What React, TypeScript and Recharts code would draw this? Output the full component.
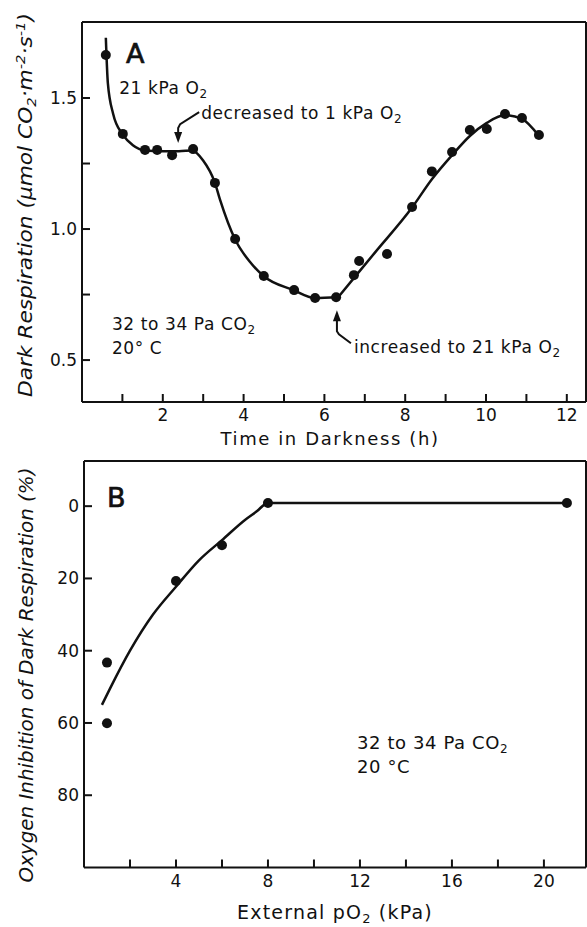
import React from 'react';
import { ComposedChart, Line, Scatter, XAxis, YAxis, ReferenceDot } from 'recharts';

// ---------- Panel A : dark respiration vs time in darkness ----------
const timeHours = [0.59, 1.01, 1.56, 1.86, 2.23, 2.75, 3.29, 3.79, 4.5, 5.25, 5.77, 6.29, 6.73, 6.86, 7.55, 8.17, 8.66, 9.16, 9.6, 10.02, 10.47, 10.89, 11.31];
const respiration = [1.664, 1.363, 1.302, 1.302, 1.282, 1.305, 1.176, 0.962, 0.821, 0.767, 0.737, 0.74, 0.824, 0.878, 0.905, 1.084, 1.22, 1.294, 1.378, 1.382, 1.439, 1.424, 1.359];
// fitted curve, read in two pieces (sharp corner where O2 was raised)
const fitTimeLow = [0.59, 0.64, 0.77, 1.01, 1.26, 1.55, 2.0, 2.4, 2.73, 2.99, 3.29, 3.42, 3.79, 4.16, 4.5, 5.24, 5.76, 6.34];
const fitRespLow = [1.73, 1.557, 1.44, 1.36, 1.32, 1.3, 1.297, 1.297, 1.3, 1.263, 1.176, 1.11, 0.96, 0.874, 0.82, 0.767, 0.737, 0.74];
const fitTimeHigh = [6.34, 7.25, 8.16, 8.66, 9.15, 9.6, 10.02, 10.47, 10.89, 11.31];
const fitRespHigh = [0.74, 0.91, 1.08, 1.19, 1.28, 1.355, 1.405, 1.435, 1.42, 1.355];
const timeTicks = [1, 2, 3, 4, 5, 6, 7, 8, 9, 10, 11, 12];
const timeLabels = [2, 4, 6, 8, 10, 12];
const respTicks = [0.5, 0.75, 1.0, 1.25, 1.5];
const respLabels = [0.5, 1.0, 1.5];

// ---------- Panel B : oxygen inhibition vs external pO2 ----------
const pO2 = [1, 1, 4, 6, 8, 21];
const inhibition = [43.3, 60.1, 20.7, 10.8, -0.9, -0.9];
const fitPO2 = [0.78, 1.13, 2, 3, 4, 5, 6, 7, 7.5, 8, 21];
const fitInhib = [55, 50.5, 40, 30, 22.3, 15, 9.4, 3.8, 1.5, -0.9, -0.9];
const pO2Ticks = [2, 4, 6, 8, 10, 12, 14, 16, 18, 20];
const pO2Labels = [4, 8, 12, 16, 20];
const inhibTicks = [0, 20, 40, 60, 80];
const inhibLabels = [0, 20, 40, 60, 80];

const pointsA = timeHours.map((x, i) => ({ x, y: respiration[i] }));
const curveALow = fitTimeLow.map((x, i) => ({ x, y: fitRespLow[i] }));
const curveAHigh = fitTimeHigh.map((x, i) => ({ x, y: fitRespHigh[i] }));
const pointsB = pO2.map((x, i) => ({ x, y: inhibition[i] }));
const curveB = fitPO2.map((x, i) => ({ x, y: fitInhib[i] }));

const FONT = "'DejaVu Sans', 'Liberation Sans', sans-serif";
const INK = '#111';
const axisLine = { stroke: INK, strokeWidth: 2 };
const TICK_LEN = 8;

const Dot = (p: any) => <circle cx={p.cx} cy={p.cy} r={5} fill={INK} />;

const txt = { fill: INK, fontFamily: FONT, fontSize: 17, letterSpacing: 0.6 } as any;

const has = (list: number[], v: number) => list.some((l) => Math.abs(l - v) < 1e-6);

// inward-pointing tick marks with labels outside the frame
const makeTick = (side: 'bottom' | 'top' | 'left' | 'right', labels: number[] = [], fmt: (v: number) => string = String) => (p: any) => {
  const v = Number(p.payload?.value);
  const { x, y } = p;
  const label = has(labels, v) ? fmt(v) : '';
  if (side === 'bottom') {
    return (
      <g>
        <line x1={x} y1={y} x2={x} y2={y - TICK_LEN} stroke={INK} strokeWidth={2} />
        {label && <text x={x} y={y + 19} textAnchor="middle" fill={INK} fontFamily={FONT} fontSize={17}>{label}</text>}
      </g>
    );
  }
  if (side === 'top') {
    return <line x1={x} y1={y} x2={x} y2={y + TICK_LEN} stroke={INK} strokeWidth={2} />;
  }
  if (side === 'left') {
    return (
      <g>
        <line x1={x} y1={y} x2={x + TICK_LEN} y2={y} stroke={INK} strokeWidth={2} />
        {label && <text x={x - 5} y={y + 6} textAnchor="end" fill={INK} fontFamily={FONT} fontSize={17}>{label}</text>}
      </g>
    );
  }
  return <line x1={x} y1={y} x2={x - TICK_LEN} y2={y} stroke={INK} strokeWidth={2} />;
};

const textShape = (content: React.ReactNode, extra: any = {}) => (p: any) => (
  <text x={p.cx} y={p.cy} {...txt} {...extra}>{content}</text>
);

const O2 = (size = 12) => (<>O<tspan dy={4} fontSize={size}>2</tspan></>);
const CO2 = (size = 12) => (<>CO<tspan dy={4} fontSize={size}>2</tspan></>);

const arrowDecreased = (p: any) => {
  const { cx, cy } = p;
  return (
    <g>
      <path d={`M${cx + 21},${cy - 31} L${cx + 2},${cy - 19} L${cx},${cy - 15} L${cx},${cy - 9}`} stroke={INK} strokeWidth={2} fill="none" />
      <path d={`M${cx},${cy} L${cx - 4},${cy - 11} L${cx + 4},${cy - 11} Z`} fill={INK} />
      <text x={cx + 23} y={cy - 24} {...txt}>decreased to 1 kPa {O2()}</text>
    </g>
  );
};

const arrowIncreased = (p: any) => {
  const { cx, cy } = p;
  return (
    <g>
      <path d={`M${cx},${cy + 9} L${cx},${cy + 21} L${cx + 2},${cy + 24} L${cx + 14},${cy + 33}`} stroke={INK} strokeWidth={2} fill="none" />
      <path d={`M${cx},${cy} L${cx - 4},${cy + 11} L${cx + 4},${cy + 11} Z`} fill={INK} />
      <text x={cx + 17} y={cy + 43} {...txt}>increased to 21 kPa {O2()}</text>
    </g>
  );
};

const panelLetter = { fontSize: 27, letterSpacing: 0, stroke: INK, strokeWidth: 0.7 };

const commonAxis = { tickSize: 0, tickMargin: 0, tickLine: false, axisLine, interval: 0 as const };

export default function App() {
  return (
    <div style={{ position: 'absolute', left: 0, top: 0, width: 587, height: 927, background: '#fff', overflow: 'hidden' }}>
      {/* Panel A */}
      <div style={{ position: 'absolute', left: 0, top: 0 }}>
        <ComposedChart width={587} height={460} margin={{ top: 21, right: 0, bottom: 28, left: 22 }}>
          <XAxis xAxisId="b" type="number" dataKey="x" domain={[0, 12.475]} ticks={timeTicks} orientation="bottom" height={30}
            {...commonAxis} tick={makeTick('bottom', timeLabels)} />
          <XAxis xAxisId="t" type="number" dataKey="x" domain={[0, 12.475]} ticks={timeTicks} orientation="top" height={1}
            {...commonAxis} tick={makeTick('top')} />
          <YAxis yAxisId="l" type="number" dataKey="y" domain={[0.34, 1.79]} ticks={respTicks} orientation="left" width={60}
            {...commonAxis} tick={makeTick('left', respLabels, (v) => v.toFixed(1))} />
          <YAxis yAxisId="r" type="number" dataKey="y" domain={[0.34, 1.79]} ticks={respTicks} orientation="right" width={1}
            {...commonAxis} tick={makeTick('right')} />
          <Line xAxisId="b" yAxisId="l" data={curveALow} dataKey="y" type="monotone" stroke={INK} strokeWidth={2.5} dot={false} activeDot={false} isAnimationActive={false} />
          <Line xAxisId="b" yAxisId="l" data={curveAHigh} dataKey="y" type="monotone" stroke={INK} strokeWidth={2.5} dot={false} activeDot={false} isAnimationActive={false} />
          <Scatter xAxisId="b" yAxisId="l" data={pointsA} dataKey="y" shape={Dot} isAnimationActive={false} />
          <ReferenceDot xAxisId="b" yAxisId="l" x={1.09} y={1.634} r={0} shape={textShape('A', panelLetter)} />
          <ReferenceDot xAxisId="b" yAxisId="l" x={0.92} y={1.515} r={0} shape={textShape(<>21 kPa {O2()}</>)} />
          <ReferenceDot xAxisId="b" yAxisId="l" x={2.38} y={1.328} r={0} shape={arrowDecreased} />
          <ReferenceDot xAxisId="b" yAxisId="l" x={6.31} y={0.69} r={0} shape={arrowIncreased} />
          <ReferenceDot xAxisId="b" yAxisId="l" x={0.74} y={0.614} r={0} shape={textShape(<>32 to 34 Pa {CO2()}</>)} />
          <ReferenceDot xAxisId="b" yAxisId="l" x={0.74} y={0.523} r={0} shape={textShape('20° C')} />
        </ComposedChart>
      </div>

      {/* Panel B */}
      <div style={{ position: 'absolute', left: 0, top: 460 }}>
        <ComposedChart width={587} height={467} margin={{ top: 0, right: 0, bottom: 29.5, left: 24 }}>
          <XAxis xAxisId="b" type="number" dataKey="x" domain={[0, 21.83]} ticks={pO2Ticks} orientation="bottom" height={30}
            {...commonAxis} tick={makeTick('bottom', pO2Labels)} />
          <XAxis xAxisId="t" type="number" dataKey="x" domain={[0, 21.83]} ticks={pO2Ticks} orientation="top" height={1}
            {...commonAxis} tick={makeTick('top')} />
          <YAxis yAxisId="l" type="number" dataKey="y" domain={[-12.5, 100]} reversed ticks={inhibTicks} orientation="left" width={60}
            {...commonAxis} tick={makeTick('left', inhibLabels)} />
          <YAxis yAxisId="r" type="number" dataKey="y" domain={[-12.5, 100]} reversed ticks={inhibTicks} orientation="right" width={1}
            {...commonAxis} tick={makeTick('right')} />
          <Line xAxisId="b" yAxisId="l" data={curveB} dataKey="y" type="monotone" stroke={INK} strokeWidth={2.5} dot={false} activeDot={false} isAnimationActive={false} />
          <Scatter xAxisId="b" yAxisId="l" data={pointsB} dataKey="y" shape={Dot} isAnimationActive={false} />
          <ReferenceDot xAxisId="b" yAxisId="l" x={1.0} y={0.2} r={0} shape={textShape('B', panelLetter)} />
          <ReferenceDot xAxisId="b" yAxisId="l" x={11.87} y={67.3} r={0} shape={textShape(<>32 to 34 Pa {CO2()}</>, { fontSize: 18 })} />
          <ReferenceDot xAxisId="b" yAxisId="l" x={11.87} y={73.9} r={0} shape={textShape('20 °C', { fontSize: 18 })} />
        </ComposedChart>
      </div>

      {/* Axis titles */}
      <svg width={587} height={927} style={{ position: 'absolute', left: 0, top: 0, pointerEvents: 'none' }}>
        <text x={330} y={445} textAnchor="middle" fill={INK} fontFamily={FONT} fontSize={18} letterSpacing={1.6}>Time in Darkness (h)</text>
        <text x={335} y={919} textAnchor="middle" fill={INK} fontFamily={FONT} fontSize={19} letterSpacing={1.2}>External p{O2(13)}<tspan dy={-4}> (kPa)</tspan></text>
        <text transform="rotate(-90)" x={-205} y={32} textAnchor="middle" fill={INK} fontFamily={FONT} fontStyle="italic" fontSize={19}
          textLength={384} lengthAdjust="spacingAndGlyphs">
          Dark Respiration (μmol CO<tspan dy={4} fontSize={13}>2</tspan><tspan dy={-4}>·m</tspan><tspan dy={-7} fontSize={13}>-2</tspan><tspan dy={7}>·s</tspan><tspan dy={-7} fontSize={13}>-1</tspan><tspan dy={7}>)</tspan>
        </text>
        <text transform="rotate(-90)" x={-675} y={33} textAnchor="middle" fill={INK} fontFamily={FONT} fontStyle="italic" fontSize={19}
          textLength={415} lengthAdjust="spacingAndGlyphs">
          Oxygen Inhibition of Dark Respiration (%)
        </text>
      </svg>
    </div>
  );
}
